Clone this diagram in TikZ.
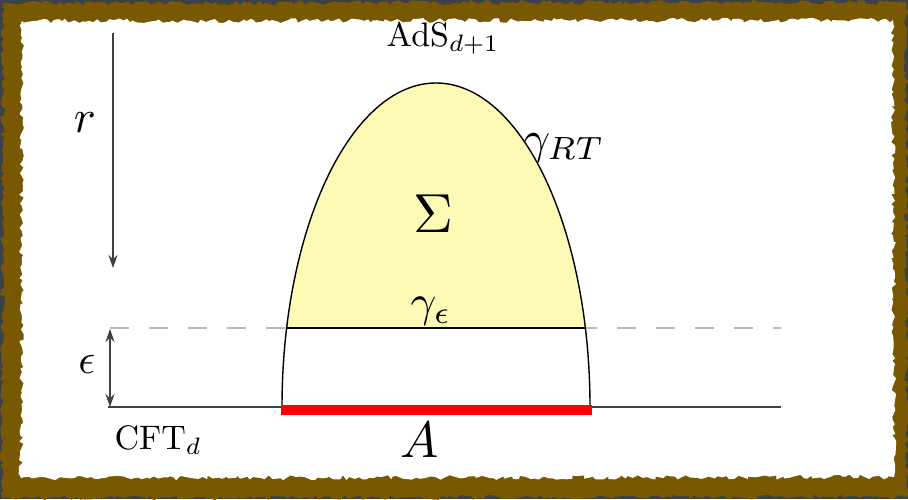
\documentclass[tikz,border=0pt]{standalone}
\usetikzlibrary{arrows.meta,decorations.pathmorphing}
\definecolor{framebrown}{RGB}{120,88,2}
\definecolor{darkbg}{RGB}{60,64,72}
\definecolor{sigmayellow}{RGB}{253,250,182}
\tikzset{
  curveline/.style={line width=0.7pt, black},
  axisline/.style={line width=0.9pt, black!75},
  dashline/.style={line width=1.1pt, black!28, dash pattern=on 9.5pt off 10pt},
  redband/.style={line width=5pt, red},
  tip/.style={-{Stealth[length=6.5pt,width=4.5pt]}},
  lbl/.style={inner sep=0pt, font=\normalsize},
  rough/.style={decorate, decoration={random steps, segment length=2pt, amplitude=1.2pt}}
}
\begin{document}
\begin{tikzpicture}[x=0.5pt,y=-0.5pt]
\pgfmathsetseed{11}
\useasboundingbox (0,0) rectangle (908,499);
% frame
\fill[darkbg] (0,0) rectangle (908,499);
\fill[framebrown, rough] (3,3) -- (906,2) -- (907,497) -- (2,498) -- cycle;
\fill[white, rough] (22,21) -- (893,20) -- (894,477) -- (21,478) -- cycle;
% yellow region
\begin{scope}
  \clip (0,0) rectangle (908,328);
  \fill[sigmayellow] (590,407) arc[start angle=0, end angle=-180, x radius=154, y radius=324] -- cycle;
\end{scope}
% coordinates
\coordinate (rtop) at (113,33);
\coordinate (rbot) at (113,268);
\coordinate (etop) at (110,329);
\coordinate (ebot) at (110,407);
\coordinate (dl) at (110,328);
\coordinate (dr) at (781,328);
\coordinate (bl) at (108,407);
\coordinate (br) at (781,407);
\coordinate (cl) at (282,407);
\coordinate (cr) at (590,407);
\coordinate (gl) at (286.7,328);
\coordinate (gr) at (585.3,328);
\coordinate (al) at (281,410);
\coordinate (ar) at (592,410);
% lines
\draw[dashline] (dl) -- (dr);
\draw[axisline] (bl) -- (br);
\draw[curveline] (cr) arc[start angle=0, end angle=-180, x radius=154, y radius=324];
\draw[curveline] (gl) -- (gr);
\draw[redband] (al) -- (ar);
\draw[axisline, tip] (rtop) -- (rbot);
\draw[axisline, {Stealth[length=6.5pt,width=4.5pt]}-{Stealth[length=6.5pt,width=4.5pt]}] (etop) -- (ebot);
% labels
\node[lbl, scale=1.7, anchor=base] (ads) at (443,46) {AdS$_{d+1}$};
\node[lbl, scale=2.3, anchor=base] (r) at (85,132) {$r$};
\node[lbl, scale=2.3, anchor=base west] (grt) at (523,153) {$\gamma_{RT}$};
\node[lbl, scale=2.75, anchor=base] (sig) at (433,232) {$\Sigma$};
\node[lbl, scale=2.25] (geps) at (431,311) {$\gamma_\epsilon$};
\node[lbl, scale=2.1] (eps) at (87,364) {$\epsilon$};
\node[lbl, scale=1.7, anchor=base west] (cft) at (114,449) {CFT$_d$};
\node[lbl, scale=2.55, anchor=base] (A) at (420,457) {$A$};
\end{tikzpicture}
\end{document}
